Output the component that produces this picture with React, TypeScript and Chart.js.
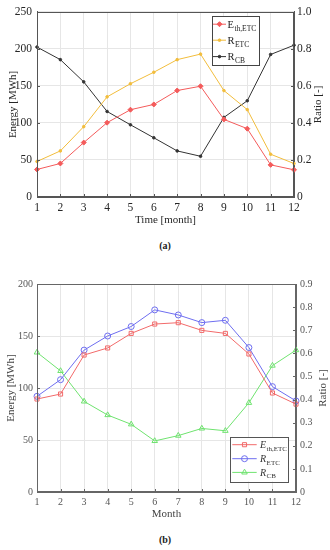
import React, { useEffect, useRef } from "react";
import { Chart, registerables } from "chart.js";

Chart.register(...registerables);

const FONT = "'Liberation Serif', 'Times New Roman', serif";

// ---------- data ----------
const months = ["1", "2", "3", "4", "5", "6", "7", "8", "9", "10", "11", "12"];

// chart (a)
const aEnergyEth = [37.2, 45.3, 73.5, 100.4, 117.9, 125, 143.8, 149.6, 104.8, 92.3, 43.4, 36.7];
const aRatioEtc = [0.192, 0.249, 0.38, 0.541, 0.612, 0.674, 0.742, 0.772, 0.575, 0.472, 0.231, 0.181];
const aRatioCb = [0.81, 0.742, 0.622, 0.462, 0.39, 0.32, 0.249, 0.22, 0.43, 0.52, 0.77, 0.82];

// chart (b)
const bEnergyEth = [89.4, 94.2, 131.7, 138.5, 152.5, 161.5, 162.8, 155.4, 152.5, 132.7, 95.2, 84.5];
const bRatioEtc = [0.414, 0.486, 0.614, 0.675, 0.716, 0.788, 0.766, 0.733, 0.743, 0.625, 0.456, 0.394];
const bRatioCb = [0.604, 0.524, 0.392, 0.333, 0.293, 0.221, 0.244, 0.275, 0.265, 0.386, 0.547, 0.614];

// labels
const aTitleX = "Time [month]";
const bTitleX = "Month";
const titleY = "Energy [MWh]";
const titleY1 = "Ratio [-]";

type Entry = {
  color: string;
  style: string;
  radius: number;
  filled: boolean;
  main: string;
  sub: string;
  italic: boolean;
};

function drawMarker(ctx: CanvasRenderingContext2D, style: string, x: number, y: number, r: number, color: string, filled: boolean) {
  ctx.save();
  ctx.beginPath();
  ctx.strokeStyle = color;
  ctx.fillStyle = color;
  ctx.lineWidth = 1;
  if (style === "circle") {
    ctx.arc(x, y, r, 0, Math.PI * 2);
  } else if (style === "rect") {
    const s = r * Math.SQRT1_2;
    ctx.rect(x - s, y - s, 2 * s, 2 * s);
  } else if (style === "rectRot") {
    ctx.moveTo(x, y - r);
    ctx.lineTo(x + r, y);
    ctx.lineTo(x, y + r);
    ctx.lineTo(x - r, y);
    ctx.closePath();
  } else if (style === "triangle") {
    for (let k = 0; k < 3; k++) {
      const a = (k * 2 * Math.PI) / 3;
      const px = x + Math.sin(a) * r;
      const py = y - Math.cos(a) * r;
      if (k === 0) ctx.moveTo(px, py);
      else ctx.lineTo(px, py);
    }
    ctx.closePath();
  }
  if (filled) ctx.fill();
  ctx.stroke();
  ctx.restore();
}

type OverlayCfg = {
  axisColor: string;
  tickLen: number;
  rightTitle: { text: string; fromRight: number; size: number; color: string };
  legend: {
    anchor: "top" | "bottom";
    rightInset: number;
    vInset: number;
    width: number;
    height: number;
    rows: number[];
    lineX0: number;
    lineX1: number;
    textX: number;
    mainSize: number;
    subSize: number;
    subDrop: number;
    border: string;
    textColor: string;
    entries: Entry[];
  };
};

function makeOverlay(cfg: OverlayCfg) {
  return {
    id: "overlay",
    afterDraw(chart: any) {
      const ctx: CanvasRenderingContext2D = chart.ctx;
      const ca = chart.chartArea;
      ctx.save();
      // box
      ctx.strokeStyle = cfg.axisColor;
      ctx.lineWidth = 1;
      ctx.strokeRect(Math.round(ca.left) + 0.5, Math.round(ca.top) + 0.5, Math.round(ca.right - ca.left) - 1, Math.round(ca.bottom - ca.top) - 1);
      // inward ticks
      const sx = chart.scales.x;
      const sy = chart.scales.y;
      const sy1 = chart.scales.y1;
      ctx.beginPath();
      sx.ticks.forEach((_t: any, i: number) => {
        const px = Math.round(sx.getPixelForTick(i)) + 0.5;
        ctx.moveTo(px, ca.bottom);
        ctx.lineTo(px, ca.bottom - cfg.tickLen);
      });
      sy.ticks.forEach((t: any) => {
        const py = Math.round(sy.getPixelForValue(t.value)) + 0.5;
        ctx.moveTo(ca.left, py);
        ctx.lineTo(ca.left + cfg.tickLen, py);
      });
      sy1.ticks.forEach((t: any) => {
        const py = Math.round(sy1.getPixelForValue(t.value)) + 0.5;
        ctx.moveTo(ca.right, py);
        ctx.lineTo(ca.right - cfg.tickLen, py);
      });
      ctx.stroke();

      // right title (reads bottom-to-top)
      const rt = cfg.rightTitle;
      ctx.save();
      ctx.translate(chart.width - rt.fromRight, (ca.top + ca.bottom) / 2);
      ctx.rotate(-Math.PI / 2);
      ctx.font = `${rt.size}px ${FONT}`;
      ctx.fillStyle = rt.color;
      ctx.textAlign = "center";
      ctx.textBaseline = "middle";
      ctx.fillText(rt.text, 0, 0);
      ctx.restore();

      // legend
      const lg = cfg.legend;
      const right = ca.right - lg.rightInset;
      const left = right - lg.width;
      const top = lg.anchor === "top" ? ca.top + lg.vInset : ca.bottom - lg.vInset - lg.height;
      ctx.fillStyle = "#ffffff";
      ctx.fillRect(left, top, lg.width, lg.height);
      ctx.strokeStyle = lg.border;
      ctx.lineWidth = 1;
      ctx.strokeRect(Math.round(left) + 0.5, Math.round(top) + 0.5, Math.round(lg.width), Math.round(lg.height));
      lg.entries.forEach((e, i) => {
        const y = top + lg.rows[i];
        ctx.beginPath();
        ctx.strokeStyle = e.color;
        ctx.lineWidth = 1;
        ctx.moveTo(left + lg.lineX0, y);
        ctx.lineTo(left + lg.lineX1, y);
        ctx.stroke();
        drawMarker(ctx, e.style, left + (lg.lineX0 + lg.lineX1) / 2, y, e.radius, e.color, e.filled);
        ctx.fillStyle = lg.textColor;
        ctx.textAlign = "left";
        ctx.textBaseline = "alphabetic";
        ctx.font = `${e.italic ? "italic " : ""}${lg.mainSize}px ${FONT}`;
        const tx = left + lg.textX;
        const base = y + lg.mainSize * 0.33;
        ctx.fillText(e.main, tx, base);
        const w = ctx.measureText(e.main).width;
        ctx.font = `${lg.subSize}px ${FONT}`;
        ctx.fillText(e.sub, tx + w + 0.5, base + lg.subDrop);
      });
      ctx.restore();
    },
  };
}

function axisCommon(opts: { tickSize: number; tickColor: string; gridColor: string; axisColor: string }) {
  return {
    border: { display: true, color: opts.axisColor, width: 1 },
    grid: { color: opts.gridColor, lineWidth: 1, drawTicks: false },
    ticks: { font: { family: FONT, size: opts.tickSize }, color: opts.tickColor },
  };
}

function ChartA() {
  const ref = useRef<HTMLCanvasElement>(null);
  useEffect(() => {
    const gridColor = "#e6e6e6";
    const axisColor = "#555555";
    const tickColor = "#262626";
    const c = axisCommon({ tickSize: 11.5, tickColor, gridColor, axisColor });
    const red = "#f45b5b";
    const yellow = "#f2bd3c";
    const black = "#333333";
    const chart = new Chart(ref.current!, {
      type: "line",
      data: {
        labels: months,
        datasets: [
          {
            label: "E_th,ETC",
            data: aEnergyEth,
            yAxisID: "y",
            borderColor: red,
            backgroundColor: red,
            borderWidth: 1,
            pointStyle: "rectRot",
            pointRadius: 2.5,
            pointBorderWidth: 1,
            clip: false,
          },
          {
            label: "R_ETC",
            data: aRatioEtc,
            yAxisID: "y1",
            borderColor: yellow,
            backgroundColor: yellow,
            borderWidth: 1,
            pointStyle: "circle",
            pointRadius: 1.3,
            clip: false,
          },
          {
            label: "R_CB",
            data: aRatioCb,
            yAxisID: "y1",
            borderColor: black,
            backgroundColor: black,
            borderWidth: 1,
            pointStyle: "circle",
            pointRadius: 1.3,
            clip: false,
          },
        ] as any,
      },
      options: {
        animation: false,
        responsive: false,
        layout: { padding: { top: 11, left: 0, right: 0, bottom: 0 } },
        plugins: { legend: { display: false }, tooltip: { enabled: false } },
        scales: {
          x: {
            type: "category",
            offset: false,
            ...c,
            ticks: { ...c.ticks, padding: 4, maxRotation: 0, autoSkip: false },
            title: {
              display: true,
              text: aTitleX,
              color: tickColor,
              font: { family: FONT, size: 11, lineHeight: 1 },
              padding: { top: 0, bottom: 6.5 },
            },
            afterFit: (s: any) => {
              s.height = 35;
            },
          },
          y: {
            position: "left",
            min: 0,
            max: 250,
            ...c,
            ticks: { ...c.ticks, stepSize: 50, padding: 5 },
            title: {
              display: true,
              text: titleY,
              color: tickColor,
              font: { family: FONT, size: 11, lineHeight: 1 },
              padding: { top: 7.5, bottom: 0 },
            },
            afterFit: (s: any) => {
              s.width = 37;
            },
          },
          y1: {
            position: "right",
            min: 0,
            max: 1,
            ...c,
            grid: { display: true, drawOnChartArea: false, drawTicks: false },
            ticks: { ...c.ticks, stepSize: 0.2, padding: 3 },
            afterFit: (s: any) => {
              s.width = 36;
            },
          },
        } as any,
      },
      plugins: [
        makeOverlay({
          axisColor,
          tickLen: 3,
          rightTitle: { text: titleY1, fromRight: 11.7, size: 11, color: tickColor },
          legend: {
            anchor: "top",
            rightInset: 35,
            vInset: 4,
            width: 47,
            height: 49,
            rows: [8.3, 24.3, 40.7],
            lineX0: 1,
            lineX1: 14,
            textX: 15.5,
            mainSize: 10.5,
            subSize: 7.5,
            subDrop: 3,
            border: "#444444",
            textColor: "#222222",
            entries: [
              { color: red, style: "rectRot", radius: 2.5, filled: true, main: "E", sub: "th,ETC", italic: false },
              { color: yellow, style: "circle", radius: 1.3, filled: true, main: "R", sub: "ETC", italic: false },
              { color: black, style: "circle", radius: 1.3, filled: true, main: "R", sub: "CB", italic: false },
            ],
          },
        }) as any,
      ],
    });
    return () => chart.destroy();
  }, []);
  return <canvas ref={ref} width={330} height={232} style={{ display: "block" }} />;
}

function ChartB() {
  const ref = useRef<HTMLCanvasElement>(null);
  useEffect(() => {
    const gridColor = "#e6e6e6";
    const axisColor = "#666666";
    const tickColor = "#555555";
    const c = axisCommon({ tickSize: 10, tickColor, gridColor, axisColor });
    const red = "#f26a6a";
    const blue = "#6e6ef0";
    const green = "#6fe36f";
    const chart = new Chart(ref.current!, {
      type: "line",
      data: {
        labels: months,
        datasets: [
          {
            label: "E_th,ETC",
            data: bEnergyEth,
            yAxisID: "y",
            borderColor: red,
            backgroundColor: "rgba(0,0,0,0)",
            borderWidth: 1,
            pointStyle: "rect",
            pointRadius: 2.9,
            pointBorderWidth: 1,
            clip: false,
          },
          {
            label: "R_ETC",
            data: bRatioEtc,
            yAxisID: "y1",
            borderColor: blue,
            backgroundColor: "rgba(0,0,0,0)",
            borderWidth: 1,
            pointStyle: "circle",
            pointRadius: 3,
            pointBorderWidth: 1,
            clip: false,
          },
          {
            label: "R_CB",
            data: bRatioCb,
            yAxisID: "y1",
            borderColor: green,
            backgroundColor: "rgba(0,0,0,0)",
            borderWidth: 1,
            pointStyle: "triangle",
            pointRadius: 3.2,
            pointBorderWidth: 1,
            clip: false,
          },
        ] as any,
      },
      options: {
        animation: false,
        responsive: false,
        layout: { padding: { top: 14, left: 0, right: 0, bottom: 0 } },
        plugins: { legend: { display: false }, tooltip: { enabled: false } },
        scales: {
          x: {
            type: "category",
            offset: false,
            ...c,
            ticks: { ...c.ticks, padding: 4.5, maxRotation: 0, autoSkip: false },
            title: {
              display: true,
              text: bTitleX,
              color: "#444444",
              font: { family: FONT, size: 11, lineHeight: 1 },
              padding: { top: 0, bottom: 5 },
            },
            afterFit: (s: any) => {
              s.height = 33;
            },
          },
          y: {
            position: "left",
            min: 0,
            max: 200,
            ...c,
            ticks: { ...c.ticks, stepSize: 50, padding: 4 },
            title: {
              display: true,
              text: titleY,
              color: "#444444",
              font: { family: FONT, size: 11, lineHeight: 1 },
              padding: { top: 5.5, bottom: 0 },
            },
            afterFit: (s: any) => {
              s.width = 37;
            },
          },
          y1: {
            position: "right",
            min: 0,
            max: 0.9,
            ...c,
            grid: { display: true, drawOnChartArea: false, drawTicks: false },
            ticks: { ...c.ticks, stepSize: 0.1, padding: 4 },
            afterFit: (s: any) => {
              s.width = 34;
            },
          },
        } as any,
      },
      plugins: [
        makeOverlay({
          axisColor,
          tickLen: 3,
          rightTitle: { text: titleY1, fromRight: 7, size: 11, color: "#444444" },
          legend: {
            anchor: "bottom",
            rightInset: 8,
            vInset: 10.5,
            width: 58,
            height: 44.5,
            rows: [7.7, 21.7, 35.4],
            lineX0: 2.3,
            lineX1: 26.7,
            textX: 30,
            mainSize: 10,
            subSize: 7,
            subDrop: 2.5,
            border: "#555555",
            textColor: "#333333",
            entries: [
              { color: red, style: "rect", radius: 2.9, filled: false, main: "E", sub: "th,ETC", italic: true },
              { color: blue, style: "circle", radius: 3, filled: false, main: "R", sub: "ETC", italic: true },
              { color: green, style: "triangle", radius: 3.2, filled: false, main: "R", sub: "CB", italic: true },
            ],
          },
        }) as any,
      ],
    });
    return () => chart.destroy();
  }, []);
  return <canvas ref={ref} width={330} height={255} style={{ display: "block" }} />;
}

export default function App() {
  useEffect(() => {
    document.body.style.margin = "0";
  }, []);
  const capStyle: React.CSSProperties = {
    position: "absolute",
    left: 0,
    width: 330,
    textAlign: "center",
    fontFamily: FONT,
    fontWeight: "bold",
    fontSize: 10,
    lineHeight: "12px",
    color: "#222",
  };
  return (
    <div style={{ position: "relative", width: 330, height: 550, background: "#fff", overflow: "hidden" }}>
      <div style={{ position: "absolute", left: 0, top: 0 }}>
        <ChartA />
      </div>
      <div style={{ ...capStyle, top: 240 }}>(a)</div>
      <div style={{ position: "absolute", left: 0, top: 270 }}>
        <ChartB />
      </div>
      <div style={{ ...capStyle, top: 534 }}>(b)</div>
    </div>
  );
}
